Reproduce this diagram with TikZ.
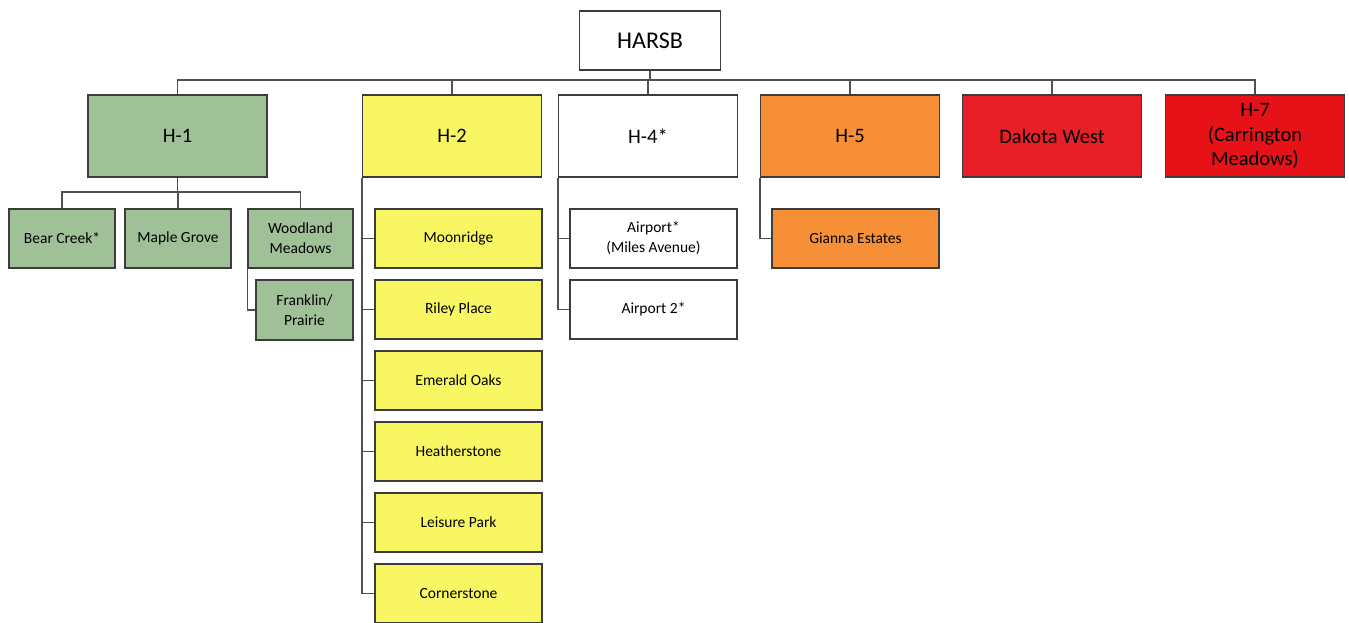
\documentclass[tikz,border=0pt]{standalone}
\usepackage{fontspec}
\setmainfont{Carlito}
\definecolor{cgreen}{RGB}{160,192,152}
\definecolor{cyellow}{RGB}{248,246,98}
\definecolor{corange}{RGB}{247,143,55}
\definecolor{cred}{RGB}{232,31,38}
\definecolor{cred2}{RGB}{230,18,24}
\definecolor{cborder}{RGB}{60,60,60}
\definecolor{cline}{RGB}{80,80,80}
\tikzset{
  box/.style={draw=cborder, line width=1.3pt, rectangle, inner sep=0pt, align=center, text=black},
  topbox/.style={box, minimum width=141pt, minimum height=59pt, font=\fontsize{24}{28}\selectfont},
  lvlbox/.style={box, minimum width=179pt, minimum height=82pt, font=\fontsize{20.5}{24.5}\selectfont},
  kidbox/.style={box, minimum height=59pt, font=\fontsize{15.5}{20}\selectfont},
  wide/.style={kidbox, minimum width=167pt},
  conn/.style={draw=cline, line width=1.4pt},
}
\begin{document}
\begin{tikzpicture}[x=1pt,y=-1pt]
\useasboundingbox (0,0) rectangle (1349,622);
% top
\node[topbox, fill=white] (harsb) at (650,40.5) {HARSB};
% level 1
\node[lvlbox, fill=cgreen] (h1) at (177.5,136) {H-1};
\node[lvlbox, fill=cyellow] (h2) at (452,136) {H-2};
\node[lvlbox, fill=white] (h4) at (648,136) {H-4*};
\node[lvlbox, fill=corange] (h5) at (850,136) {H-5};
\node[lvlbox, fill=cred] (dw) at (1052,136) {Dakota West};
\node[lvlbox, fill=cred2] (h7) at (1255,136) {H-7\\(Carrington\\Meadows)};
% H-1 children
\node[kidbox, fill=cgreen, minimum width=106pt] (bc) at (62,238.5) {Bear Creek*};
\node[kidbox, fill=cgreen, minimum width=106pt] (mg) at (178,238.5) {Maple Grove};
\node[kidbox, fill=cgreen, minimum width=105pt] (wm) at (300.5,238.5) {Woodland\\Meadows};
\node[kidbox, fill=cgreen, minimum width=97pt, minimum height=60pt] (fp) at (304.5,310) {Franklin/\\Prairie};
% H-2 children
\node[wide, fill=cyellow] (mr) at (458.5,238.5) {Moonridge};
\node[wide, fill=cyellow] (rp) at (458.5,309.5) {Riley Place};
\node[wide, fill=cyellow] (eo) at (458.5,380.5) {Emerald Oaks};
\node[wide, fill=cyellow] (hs) at (458.5,451.5) {Heatherstone};
\node[wide, fill=cyellow] (lp) at (458.5,522.5) {Leisure Park};
\node[wide, fill=cyellow] (cs) at (458.5,593.5) {Cornerstone};
% H-4 children
\node[wide, fill=white] (ap) at (653.5,238.5) {Airport*\\(Miles Avenue)};
\node[wide, fill=white] (ap2) at (653.5,309.5) {Airport 2*};
% H-5 child
\node[wide, fill=corange] (ge) at (855.5,238.5) {Gianna Estates};
% connectors
\coordinate (bus) at (650,80);
\coordinate (h1bus) at (177.5,192);
\draw[conn] (harsb.south) -- (bus);
\draw[conn] (h1.north) |- (bus) -| (h7.north);
\draw[conn] (h2.north) -- (h2.north |- bus);
\draw[conn] (h4.north) -- (h4.north |- bus);
\draw[conn] (h5.north) -- (h5.north |- bus);
\draw[conn] (dw.north) -- (dw.north |- bus);
\draw[conn] (h1.south) -- (h1bus);
\draw[conn] (bc.north) |- (h1bus) -| (wm.north);
\draw[conn] (mg.north) -- (mg.north |- h1bus);
\draw[conn] (wm.south west) |- (fp.west);
\foreach \k in {mr,rp,eo,hs,lp,cs} \draw[conn] (h2.south west) |- (\k.west);
\foreach \k in {ap,ap2} \draw[conn] (h4.south west) |- (\k.west);
\draw[conn] (h5.south west) |- (ge.west);
\end{tikzpicture}
\end{document}
